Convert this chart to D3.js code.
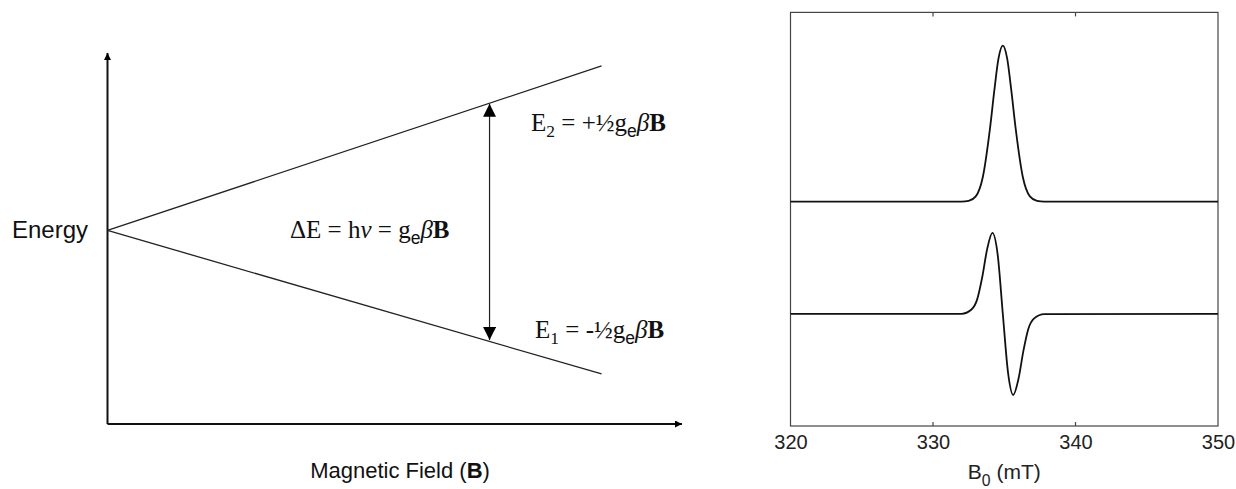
<!DOCTYPE html>
<html>
<head>
<meta charset="utf-8">
<script src="https://cdn.jsdelivr.net/npm/d3@7"></script>
<style>
  body { margin: 0; background: #fff; }
  svg { display: block; }
  .sans { font-family: "Liberation Sans", Arial, sans-serif; }
  .serif { font-family: "Liberation Serif", "Times New Roman", serif; }
</style>
</head>
<body>
<div class="area"></div>
<script>
const width = 1236
const height = 489

// --- left panel: Zeeman splitting (field in arbitrary units, energy in arbitrary units)
const upperLevel = [[0, 0], [8.6, 10.2]]
const lowerLevel = [[0, 0], [8.6, -8.9]]
const transition = [[6.65, 7.85], [6.65, -6.8]]

// --- right panel: EPR spectra, B0 in mT
const fieldTicks = [320, 330, 340, 350]
const absField = [320, 332, 332.5, 333, 333.5, 334, 334.3, 334.6, 334.9, 335.2, 335.5, 335.8, 336.3, 336.8, 337.3, 337.8, 350]
const absValue = [0, 0, 0.005, 0.034, 0.16, 0.47, 0.71, 0.92, 1, 0.92, 0.71, 0.47, 0.16, 0.034, 0.005, 0, 0]
const derivField = [320, 332.0, 332.7, 333.1, 333.45, 333.8, 334.17, 334.54, 334.9, 335.27, 335.63, 336.0, 336.35, 336.7, 337.1, 337.8, 350]
const derivValue = [0, 0.002, 0.055, 0.18, 0.45, 0.8, 1, 0.73, 0, -0.73, -1, -0.8, -0.45, -0.18, -0.055, -0.002, 0]
const absOffset = 1.386
const absScale = 1.926

const svg = d3.select(".area")
  .append("svg")
  .attr("width", width)
  .attr("height", height)
  .attr("viewBox", [0, 0, width, height])

svg.append("defs").call(defs => {
  defs.append("marker")
    .attr("id", "axisHead")
    .attr("viewBox", "0 0 10 10")
    .attr("refX", 10).attr("refY", 5)
    .attr("markerWidth", 9).attr("markerHeight", 7)
    .attr("markerUnits", "userSpaceOnUse")
    .attr("orient", "auto")
    .append("path").attr("d", "M0,0L10,5L0,10Z").attr("fill", "#000")
  defs.append("marker")
    .attr("id", "bigHead")
    .attr("viewBox", "0 0 10 10")
    .attr("refX", 10).attr("refY", 5)
    .attr("markerWidth", 15).attr("markerHeight", 13)
    .attr("markerUnits", "userSpaceOnUse")
    .attr("orient", "auto-start-reverse")
    .append("path").attr("d", "M0,0L10,5L0,10Z").attr("fill", "#000")
})

// ---------- left panel
const left = svg.append("g")

const xB = d3.scaleLinear().domain([0, 10]).range([107.5, 682])
const yE = d3.scaleLinear().domain([-12, 11]).range([424, 53])

const line = d3.line()
  .x(d => xB(d[0]))
  .y(d => yE(d[1]))

// axes with arrows
left.append("path")
  .attr("d", line([[0, -12], [0, 11]]))
  .attr("stroke", "#111").attr("stroke-width", 2).attr("fill", "none")
  .attr("marker-end", "url(#axisHead)")
left.append("path")
  .attr("d", line([[0, -12], [10, -12]]))
  .attr("stroke", "#111").attr("stroke-width", 2).attr("fill", "none")
  .attr("marker-end", "url(#axisHead)")

left.selectAll(".level")
  .data([upperLevel, lowerLevel])
  .enter()
  .append("path")
  .attr("class", "level")
  .attr("d", line)
  .attr("fill", "none")
  .attr("stroke", "#222")
  .attr("stroke-width", 1.3)

left.append("path")
  .attr("d", line(transition))
  .attr("fill", "none")
  .attr("stroke", "#222")
  .attr("stroke-width", 1.2)
  .attr("marker-start", "url(#bigHead)")
  .attr("marker-end", "url(#bigHead)")

left.append("text")
  .attr("class", "sans")
  .attr("x", 12).attr("y", 238)
  .attr("font-size", 24)
  .attr("fill", "#111")
  .text("Energy")

function gBeta(t) {
  t.append("tspan").text("g")
  t.append("tspan").attr("class", "sans").attr("font-size", "0.7em").attr("dy", 6).text("e")
  t.append("tspan").attr("dy", -6).attr("font-style", "italic").text("β")
  t.append("tspan").attr("font-weight", "bold").text("B")
}

const dE = left.append("text")
  .attr("class", "serif")
  .attr("x", 290).attr("y", 238)
  .attr("font-size", 25)
  .attr("fill", "#111")
dE.append("tspan").text("ΔE = h")
dE.append("tspan").attr("font-style", "italic").text("v")
dE.append("tspan").text(" = ")
gBeta(dE)

const e2 = left.append("text")
  .attr("class", "serif")
  .attr("x", 531).attr("y", 131)
  .attr("font-size", 25)
  .attr("fill", "#111")
e2.append("tspan").text("E")
e2.append("tspan").attr("font-size", "0.7em").attr("dy", 6).text("2")
e2.append("tspan").attr("dy", -6).text(" = +½")
gBeta(e2)

const e1 = left.append("text")
  .attr("class", "serif")
  .attr("x", 535).attr("y", 338)
  .attr("font-size", 25)
  .attr("fill", "#111")
e1.append("tspan").text("E")
e1.append("tspan").attr("font-size", "0.7em").attr("dy", 6).text("1")
e1.append("tspan").attr("dy", -6).text(" = -½")
gBeta(e1)

const mf = left.append("text")
  .attr("class", "sans")
  .attr("x", 400).attr("y", 478)
  .attr("text-anchor", "middle")
  .attr("font-size", 22)
  .attr("fill", "#111")
mf.append("tspan").text("Magnetic Field (")
mf.append("tspan").attr("font-weight", "bold").text("B")
mf.append("tspan").text(")")

// ---------- right panel
const right = svg.append("g")

const x = d3.scaleLinear().domain([320, 350]).range([790.5, 1218])
const y = d3.scaleLinear().domain([-1.383, 3.723]).range([426, 12.4])

right.append("rect")
  .attr("x", x(320)).attr("y", y(3.723))
  .attr("width", x(350) - x(320))
  .attr("height", y(-1.383) - y(3.723))
  .attr("fill", "none")
  .attr("stroke", "#444")
  .attr("stroke-width", 1.2)

const xAxis = right.append("g")
  .attr("transform", `translate(0, ${y(-1.383)})`)
  .call(d3.axisBottom(x).tickValues(fieldTicks).tickSize(0).tickPadding(9).tickFormat(d3.format("d")))
xAxis.select(".domain").remove()
xAxis.selectAll("text")
  .attr("class", "sans")
  .attr("font-size", 20)
  .attr("fill", "#222")

// inward ticks on top and bottom
right.selectAll(".tickB")
  .data(fieldTicks.slice(1, -1))
  .enter()
  .append("line")
  .attr("x1", d => x(d)).attr("x2", d => x(d))
  .attr("y1", y(-1.383)).attr("y2", y(-1.383) - 4)
  .attr("stroke", "#444").attr("stroke-width", 1.2)
right.selectAll(".tickT")
  .data(fieldTicks.slice(1, -1))
  .enter()
  .append("line")
  .attr("x1", d => x(d)).attr("x2", d => x(d))
  .attr("y1", y(3.723)).attr("y2", y(3.723) + 4)
  .attr("stroke", "#444").attr("stroke-width", 1.2)

const xl = right.append("text")
  .attr("class", "sans")
  .attr("x", (x(320) + x(350)) / 2).attr("y", 479)
  .attr("text-anchor", "middle")
  .attr("font-size", 21)
  .attr("fill", "#222")
xl.append("tspan").text("B")
xl.append("tspan").attr("font-size", "0.75em").attr("dy", 7).text("0")
xl.append("tspan").attr("dy", -7).text(" (mT)")

const spec = d3.line()
  .x(d => x(d[0]))
  .y(d => y(d[1]))
  .curve(d3.curveMonotoneX)

const absData = absField.map((b, i) => [b, absOffset + absScale * absValue[i]])
const derivData = derivField.map((b, i) => [b, derivValue[i]])

right.selectAll(".spectrum")
  .data([absData, derivData])
  .enter()
  .append("path")
  .attr("class", "spectrum")
  .attr("d", spec)
  .attr("fill", "none")
  .attr("stroke", "#111")
  .attr("stroke-width", 1.8)
</script>
</body>
</html>
